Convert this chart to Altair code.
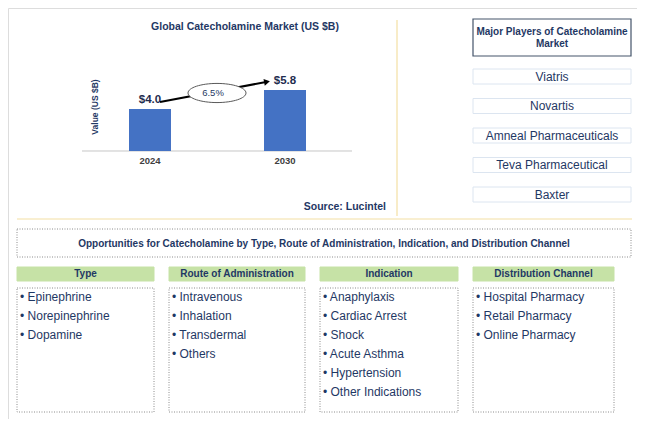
import altair as alt
import pandas as pd

# ---------------- data ----------------
years = ["2024", "2030"]
market_values = [4.0, 5.8]
value_labels = ["$4.0", "$5.8"]
cagr_label = "6.5%"
chart_title = "Global Catecholamine Market (US $B)"
y_axis_title = "Value (US $B)"
source_note = "Source: Lucintel"
players_title = ["Major Players of Catecholamine", "Market"]
players = ["Viatris", "Novartis", "Amneal Pharmaceuticals", "Teva Pharmaceutical", "Baxter"]
opportunities_title = ("Opportunities for Catecholamine by Type, Route of Administration, "
                       "Indication, and Distribution Channel")
segment_headers = ["Type", "Route of Administration", "Indication", "Distribution Channel"]
type_items = ["Epinephrine", "Norepinephrine", "Dopamine"]
route_items = ["Intravenous", "Inhalation", "Transdermal", "Others"]
indication_items = ["Anaphylaxis", "Cardiac Arrest", "Shock", "Acute Asthma",
                    "Hypertension", "Other Indications"]
channel_items = ["Hospital Pharmacy", "Retail Pharmacy", "Online Pharmacy"]
segment_items = [type_items, route_items, indication_items, channel_items]

# ---------------- layout / style ----------------
W, H = 629, 411
FONT = "Liberation Sans, Arial, sans-serif"
NAVY = "#1F3864"
BAR = "#4472C4"
YELLOW = "#F3DFA3"
GREEN = "#C6E2A6"
DOT = "#8C8C8C"


def sx():
    return alt.Scale(domain=[8, 8 + W], nice=False, zero=False)


def sy():
    return alt.Scale(domain=[8, 8 + H], reverse=True, nice=False, zero=False)


def texts(df, size, weight="normal", color=NAVY, align="center", angle=0):
    return alt.Chart(df).mark_text(
        font=FONT, fontSize=size, fontWeight=weight, color=color,
        align=align, baseline="middle", angle=angle
    ).encode(
        x=alt.X("x:Q", scale=sx(), axis=None),
        y=alt.Y("y:Q", scale=sy(), axis=None),
        text="text:N",
    )


def rects(df, fill, stroke, dash=None, sw=1.0):
    kw = dict(fill=fill, stroke=stroke, strokeWidth=sw)
    if dash is not None:
        kw["strokeDash"] = dash
    return alt.Chart(df).mark_rect(**kw).encode(
        x=alt.X("x:Q", scale=sx(), axis=None), x2="x2:Q",
        y=alt.Y("y:Q", scale=sy(), axis=None), y2="y2:Q",
    )


def rules(df, color, sw=1.0):
    return alt.Chart(df).mark_rule(color=color, strokeWidth=sw).encode(
        x=alt.X("x:Q", scale=sx(), axis=None), x2="x2:Q",
        y=alt.Y("y:Q", scale=sy(), axis=None), y2="y2:Q",
    )


layers = []

# separators
layers.append(rules(pd.DataFrame({"x": [397, 17], "x2": [397, 632],
                                  "y": [20, 219], "y2": [216, 219]}), YELLOW, 1.2))

# chart title, axis title, source
layers.append(texts(pd.DataFrame({"x": [245], "y": [27], "text": [chart_title]}), 10.5, "bold"))
layers.append(texts(pd.DataFrame({"x": [95], "y": [107], "text": [y_axis_title]}), 8.5, "bold", angle=270))
layers.append(texts(pd.DataFrame({"x": [386], "y": [207], "text": [source_note]}), 10.5, "bold", align="right"))

# ---------------- bar chart (own shared scales) ----------------
bar_df = pd.DataFrame({"year": years, "value": market_values, "label": value_labels})
ybs = alt.Scale(domain=[0, 10], range=[143, 38], nice=False)
xb = alt.X("year:N", axis=None,
           scale=alt.Scale(domain=years, range=[53.5, 365.5], paddingInner=0.689, paddingOuter=0.5))
yb = alt.Y("value:Q", axis=None, scale=ybs)
base = alt.Chart(bar_df)
baseline = base.mark_rule(color="#D9D9D9", strokeWidth=1).encode(
    y=alt.Y(datum=0, scale=ybs, axis=None),
    x=alt.value(74), x2=alt.value(344))
bars = base.mark_bar(color=BAR).encode(x=xb, y=yb)
vlabels = base.mark_text(font=FONT, fontSize=11.5, fontWeight="bold", color="#1F2D4F",
                         baseline="middle", dy=-9).encode(x=xb, y=yb, text="label:N")
ylabels = base.mark_text(font=FONT, fontSize=9.5, fontWeight="bold", color="#404040",
                         baseline="middle", dy=10).encode(
    x=xb, y=alt.Y(datum=0, scale=ybs, axis=None), text="year:N")
bar_layer = alt.layer(baseline, bars, vlabels, ylabels)
layers.append(bar_layer)

# CAGR arrow + ellipse
arrow_df = pd.DataFrame({"x": [160, 266], "y": [102, 82]})
layers.append(alt.Chart(arrow_df).mark_line(color="black", strokeWidth=2).encode(
    x=alt.X("x:Q", scale=sx(), axis=None), y=alt.Y("y:Q", scale=sy(), axis=None)))
layers.append(alt.Chart(pd.DataFrame({"x": [267], "y": [81.8]})).mark_point(
    shape="triangle-right", size=45, filled=True, color="black", opacity=1, angle=349.3
).encode(x=alt.X("x:Q", scale=sx(), axis=None), y=alt.Y("y:Q", scale=sy(), axis=None)))
ellipse_path = "M -1 0 A 1 0.33 0 1 1 1 0 A 1 0.33 0 1 1 -1 0 Z"
layers.append(alt.Chart(pd.DataFrame({"x": [217], "y": [93]})).mark_point(
    shape=ellipse_path, size=58 * 58, filled=True, fill="white", stroke="#595959",
    strokeWidth=1, opacity=1, fillOpacity=1, strokeOpacity=1
).encode(x=alt.X("x:Q", scale=sx(), axis=None), y=alt.Y("y:Q", scale=sy(), axis=None)))
layers.append(texts(pd.DataFrame({"x": [213], "y": [93], "text": [cagr_label]}), 9.5, color=NAVY))

# ---------------- players panel ----------------
layers.append(rects(pd.DataFrame({"x": [473], "x2": [631], "y": [19], "y2": [56]}),
                    "white", "#44546A", sw=1.2))
layers.append(texts(pd.DataFrame({"x": [552, 552], "y": [32, 44], "text": players_title}), 10, "bold"))
pl_y = [76.5 + 29.5 * i for i in range(len(players))]
layers.append(rects(pd.DataFrame({"x": [473] * len(players), "x2": [631] * len(players),
                                  "y": [v - 7.5 for v in pl_y], "y2": [v + 7.5 for v in pl_y]}),
                    "white", "#DCE5F0", sw=1))
layers.append(texts(pd.DataFrame({"x": [552] * len(players), "y": pl_y, "text": players}), 12))

# ---------------- opportunities panel ----------------
layers.append(rects(pd.DataFrame({"x": [17], "x2": [631], "y": [229], "y2": [257]}),
                    "white", DOT, dash=[1, 1.5]))
layers.append(texts(pd.DataFrame({"x": [324], "y": [243.5], "text": [opportunities_title]}), 10, "bold"))

col_x0 = [17, 169, 320, 473]
col_x1 = [154, 305, 458, 614]
layers.append(rects(pd.DataFrame({"x": col_x0, "x2": col_x1, "y": [267] * 4, "y2": [281] * 4}),
                    GREEN, GREEN))
layers.append(texts(pd.DataFrame({"x": [(a + b) / 2 for a, b in zip(col_x0, col_x1)],
                                  "y": [274] * 4, "text": segment_headers}), 10, "bold"))
layers.append(rects(pd.DataFrame({"x": col_x0, "x2": col_x1, "y": [288] * 4, "y2": [412] * 4}),
                    "white", DOT, dash=[1, 1.5]))
rows = []
for x0, items in zip(col_x0, segment_items):
    for i, it in enumerate(items):
        rows.append({"x": x0 + 3, "y": 297 + 19 * i, "text": "\u2022 " + it})
layers.append(texts(pd.DataFrame(rows), 12, align="left"))

chart = alt.layer(*layers).resolve_scale(x="independent", y="independent").properties(
    width=W, height=H, padding=0, autosize=alt.AutoSizeParams(type="none")
).configure_view(strokeWidth=0, stroke="transparent").configure_axis(
    domain=False, ticks=False, labels=False, grid=False
).configure(background="white")

chart.save("out.html", embed_options={"renderer": "svg", "actions": False})
